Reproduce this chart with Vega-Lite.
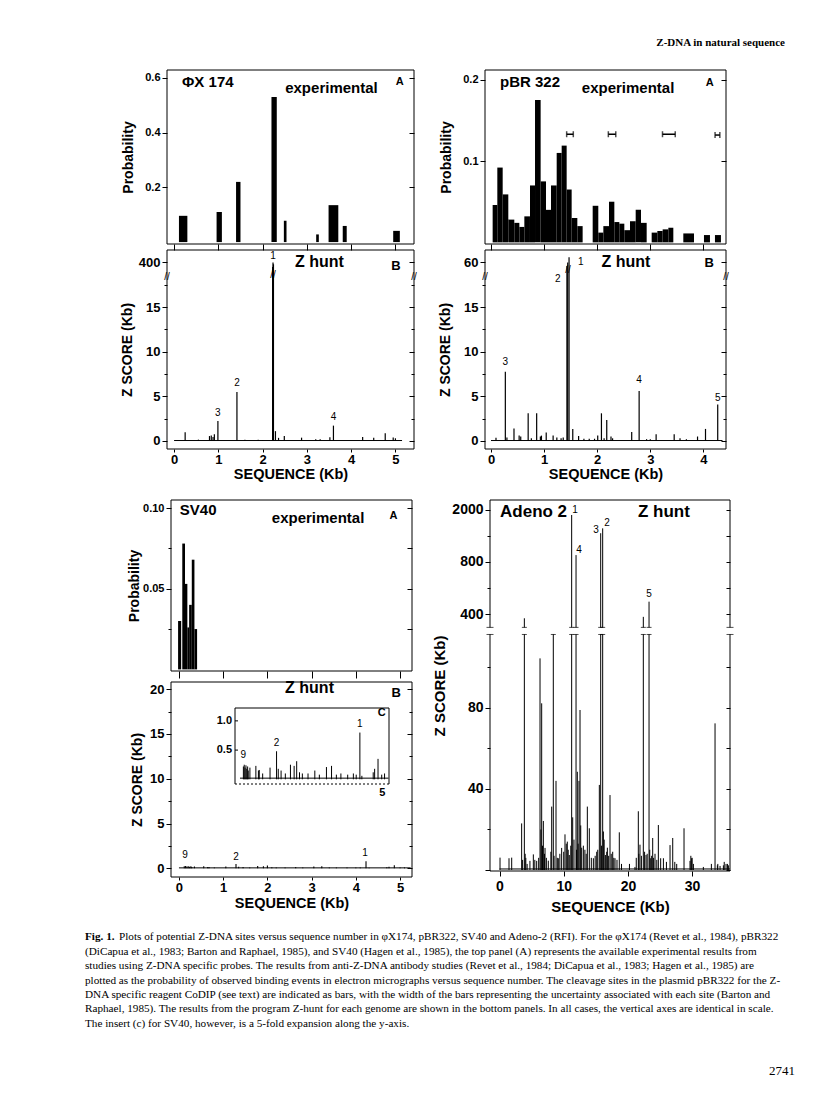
{
"$schema":"https://vega.github.io/schema/vega-lite/v6.json",
"width":816,"height":1093,
"autosize":{"type":"none"},
"padding":0,
"background":"white",
"config":{
 "view":{"stroke":null},
 "mark":{"color":"black"},
 "text":{"font":"Liberation Sans","fontWeight":"bold","fill":"black"},
 "axis":{"domain":false,"grid":false,"tickColor":"black","labelColor":"black","titleColor":"black","labelFont":"Liberation Sans","labelFontWeight":"bold","titleFont":"Liberation Sans","titleFontWeight":"bold","labelFontSize":12,"titleFontSize":14,"tickSize":5,"labelPadding":2}
},
"datasets":{
 "phiExp":[{"x0":0.11,"x1":0.30,"p":0.096},{"x0":0.96,"x1":1.08,"p":0.11},{"x0":1.40,"x1":1.50,"p":0.22},{"x0":2.20,"x1":2.32,"p":0.53},{"x0":2.48,"x1":2.54,"p":0.078},{"x0":3.21,"x1":3.27,"p":0.028},{"x0":3.49,"x1":3.71,"p":0.135},{"x0":3.81,"x1":3.90,"p":0.059},{"x0":4.95,"x1":5.10,"p":0.041}],
 "phiZ":[{"x":0.25,"z":0.97},{"x":0.55,"z":0.15},{"x":0.8,"z":0.55},{"x":0.84,"z":0.6},{"x":0.88,"z":0.45},{"x":0.91,"z":0.74},{"x":0.99,"z":2.24},{"x":1.42,"z":5.48},{"x":1.6,"z":0.15},{"x":1.9,"z":0.15},{"x":2.0,"z":0.1},{"x":2.225,"z":19.5},{"x":2.235,"z":20.0},{"x":2.245,"z":19.8},{"x":2.29,"z":1.1},{"x":2.36,"z":0.35},{"x":2.49,"z":0.57},{"x":2.88,"z":0.37},{"x":3.2,"z":0.2},{"x":3.3,"z":0.2},{"x":3.52,"z":0.41},{"x":3.60,"z":1.72},{"x":4.26,"z":0.45},{"x":4.51,"z":0.37},{"x":4.77,"z":0.86},{"x":4.95,"z":0.4},{"x":5.0,"z":0.3}],
 "pbrExp":[{"x0":0.031,"x1":0.119,"p":0.046},{"x0":0.119,"x1":0.220,"p":0.092},{"x0":0.220,"x1":0.326,"p":0.059},{"x0":0.326,"x1":0.439,"p":0.028},{"x0":0.439,"x1":0.534,"p":0.024},{"x0":0.534,"x1":0.628,"p":0.019},{"x0":0.628,"x1":0.734,"p":0.032},{"x0":0.734,"x1":0.829,"p":0.070},{"x0":0.829,"x1":0.935,"p":0.175},{"x0":0.935,"x1":1.036,"p":0.075},{"x0":1.036,"x1":1.130,"p":0.040},{"x0":1.130,"x1":1.237,"p":0.070},{"x0":1.237,"x1":1.331,"p":0.110},{"x0":1.331,"x1":1.425,"p":0.119},{"x0":1.425,"x1":1.519,"p":0.065},{"x0":1.519,"x1":1.626,"p":0.030},{"x0":1.626,"x1":1.726,"p":0.020},{"x0":1.915,"x1":2.021,"p":0.045},{"x0":2.021,"x1":2.116,"p":0.012},{"x0":2.116,"x1":2.222,"p":0.020},{"x0":2.222,"x1":2.323,"p":0.050},{"x0":2.323,"x1":2.417,"p":0.025},{"x0":2.417,"x1":2.511,"p":0.023},{"x0":2.511,"x1":2.618,"p":0.015},{"x0":2.618,"x1":2.725,"p":0.026},{"x0":2.725,"x1":2.825,"p":0.040},{"x0":2.825,"x1":2.932,"p":0.024},{"x0":3.026,"x1":3.133,"p":0.012},{"x0":3.133,"x1":3.233,"p":0.014},{"x0":3.233,"x1":3.340,"p":0.016},{"x0":3.340,"x1":3.434,"p":0.018},{"x0":3.622,"x1":3.823,"p":0.011},{"x0":4.011,"x1":4.124,"p":0.009},{"x0":4.218,"x1":4.331,"p":0.009}],
 "pbrSites":[{"lo":1.425,"hi":1.55,"p":0.133},{"lo":2.21,"hi":2.35,"p":0.133},{"lo":3.23,"hi":3.47,"p":0.133},{"lo":4.22,"hi":4.31,"p":0.132}],
 "pbrZ":[{"x":0.094,"z":0.37},{"x":0.27,"z":7.75},{"x":0.3,"z":0.4},{"x":0.433,"z":1.4},{"x":0.53,"z":0.6},{"x":0.56,"z":0.5},{"x":0.70,"z":3.1},{"x":0.76,"z":0.3},{"x":0.86,"z":3.1},{"x":0.93,"z":0.5},{"x":0.95,"z":0.6},{"x":1.04,"z":0.95},{"x":1.17,"z":0.6},{"x":1.24,"z":0.4},{"x":1.32,"z":0.3},{"x":1.36,"z":0.4},{"x":1.43,"z":19.6},{"x":1.445,"z":20.0},{"x":1.47,"z":20.6},{"x":1.54,"z":1.35},{"x":1.65,"z":0.55},{"x":1.75,"z":0.25},{"x":1.85,"z":0.25},{"x":1.95,"z":0.25},{"x":2.01,"z":0.6},{"x":2.08,"z":3.1},{"x":2.13,"z":0.3},{"x":2.18,"z":2.35},{"x":2.26,"z":0.5},{"x":2.29,"z":0.3},{"x":2.65,"z":1.0},{"x":2.79,"z":5.6},{"x":2.93,"z":0.2},{"x":3.0,"z":0.2},{"x":3.11,"z":0.75},{"x":3.45,"z":0.75},{"x":3.56,"z":0.3},{"x":3.68,"z":0.2},{"x":3.89,"z":0.5},{"x":4.04,"z":1.35},{"x":4.27,"z":4.1}],
 "svExp":[{"x0":-0.02,"x1":0.05,"p":0.030},{"x0":0.075,"x1":0.136,"p":0.078},{"x0":0.136,"x1":0.19,"p":0.053},{"x0":0.19,"x1":0.23,"p":0.026},{"x0":0.23,"x1":0.29,"p":0.040},{"x0":0.29,"x1":0.35,"p":0.068},{"x0":0.35,"x1":0.41,"p":0.025}],
 "svZ":[{"x":0.12,"z":0.22},{"x":0.15,"z":0.25},{"x":0.18,"z":0.2},{"x":0.21,"z":0.24},{"x":0.24,"z":0.18},{"x":0.27,"z":0.22},{"x":0.29,"z":0.15},{"x":0.35,"z":0.2},{"x":0.56,"z":0.23},{"x":0.65,"z":0.15},{"x":0.68,"z":0.16},{"x":0.8,"z":0.1},{"x":1.06,"z":0.2},{"x":1.29,"z":0.48},{"x":1.35,"z":0.18},{"x":1.45,"z":0.15},{"x":1.6,"z":0.1},{"x":1.78,"z":0.25},{"x":1.91,"z":0.23},{"x":2.0,"z":0.31},{"x":2.1,"z":0.12},{"x":2.2,"z":0.1},{"x":2.4,"z":0.1},{"x":2.64,"z":0.15},{"x":2.8,"z":0.08},{"x":3.05,"z":0.21},{"x":3.23,"z":0.23},{"x":3.4,"z":0.08},{"x":3.56,"z":0.1},{"x":3.8,"z":0.08},{"x":4.0,"z":0.1},{"x":4.1,"z":0.08},{"x":4.23,"z":0.8},{"x":4.3,"z":0.06},{"x":4.7,"z":0.12},{"x":4.75,"z":0.18},{"x":4.87,"z":0.35},{"x":5.0,"z":0.08},{"x":5.1,"z":0.1}],
 "adeno":[{"x":0.08,"z":6.1},{"x":1.48,"z":5.8},{"x":1.90,"z":6.1},{"x":3.45,"z":23},{"x":3.6,"z":5},{"x":3.87,"z":124.3},{"x":4.0,"z":8},{"x":4.1,"z":6},{"x":4.3,"z":3},{"x":4.74,"z":4.5},{"x":5.27,"z":7.7},{"x":5.5,"z":5},{"x":5.79,"z":4.5},{"x":6.1,"z":6},{"x":6.31,"z":104.5},{"x":6.45,"z":20},{"x":6.57,"z":82.3},{"x":6.7,"z":12},{"x":6.83,"z":24.2},{"x":7.0,"z":8},{"x":7.09,"z":10.9},{"x":7.3,"z":6},{"x":7.6,"z":4.6},{"x":8.0,"z":9},{"x":8.13,"z":31.3},{"x":8.38,"z":117},{"x":8.5,"z":7},{"x":8.8,"z":44},{"x":9.0,"z":6},{"x":9.16,"z":5.8},{"x":9.4,"z":8},{"x":9.68,"z":10.9},{"x":10.0,"z":9},{"x":10.2,"z":17.6},{"x":10.4,"z":13},{"x":10.56,"z":14},{"x":10.7,"z":10},{"x":10.87,"z":7.4},{"x":11.1,"z":12},{"x":11.24,"z":175.3},{"x":11.4,"z":26},{"x":11.6,"z":15},{"x":11.92,"z":155.5},{"x":12.0,"z":10},{"x":12.12,"z":48.5},{"x":12.25,"z":13},{"x":12.38,"z":44},{"x":12.54,"z":79},{"x":12.65,"z":22},{"x":12.8,"z":11},{"x":13.06,"z":12},{"x":13.3,"z":10},{"x":13.5,"z":8},{"x":13.68,"z":31.3},{"x":13.99,"z":20.6},{"x":14.3,"z":6},{"x":14.62,"z":5.8},{"x":14.9,"z":7},{"x":15.14,"z":9},{"x":15.3,"z":10},{"x":15.55,"z":42},{"x":15.76,"z":166.3},{"x":15.9,"z":12},{"x":16.07,"z":168.7},{"x":16.18,"z":19},{"x":16.3,"z":15},{"x":16.49,"z":7.4},{"x":16.7,"z":9},{"x":16.8,"z":11},{"x":17.0,"z":7},{"x":17.21,"z":37},{"x":17.4,"z":8},{"x":17.63,"z":9},{"x":17.8,"z":6},{"x":17.99,"z":5.8},{"x":18.3,"z":5},{"x":18.66,"z":18.6},{"x":19.0,"z":3},{"x":20.24,"z":3},{"x":21.1,"z":1.5},{"x":21.3,"z":6},{"x":21.62,"z":29},{"x":21.7,"z":8},{"x":21.88,"z":12.5},{"x":22.1,"z":7},{"x":22.4,"z":125},{"x":22.6,"z":9},{"x":22.82,"z":7.4},{"x":23.0,"z":8},{"x":23.29,"z":132.5},{"x":23.4,"z":10},{"x":23.55,"z":5.8},{"x":23.7,"z":7},{"x":23.86,"z":15.8},{"x":24.0,"z":6},{"x":24.22,"z":8},{"x":24.5,"z":5},{"x":24.74,"z":22.2},{"x":25.1,"z":5.8},{"x":25.53,"z":5.8},{"x":26.0,"z":4},{"x":26.56,"z":12.3},{"x":26.98,"z":15.8},{"x":27.3,"z":4},{"x":27.6,"z":3},{"x":28.74,"z":20.6},{"x":29.67,"z":4.5},{"x":29.8,"z":7},{"x":29.93,"z":5.8},{"x":30.0,"z":6},{"x":30.2,"z":3},{"x":31.75,"z":1.5},{"x":33.0,"z":3},{"x":33.57,"z":72.4},{"x":33.93,"z":2.3},{"x":34.0,"z":3},{"x":34.35,"z":2},{"x":34.87,"z":2.3},{"x":35.0,"z":4},{"x":35.28,"z":3},{"x":35.5,"z":3},{"x":35.65,"z":2.3}]
},
"layer":[
 {"layer":[
   {"data":{"values":[{}]},"mark":{"type":"rect","fillOpacity":0,"stroke":"black","strokeWidth":1},"encoding":{"x":{"datum":-0.16,"axis":null},"x2":{"datum":5.42},"y":{"datum":-0.007,"axis":null},"y2":{"datum":0.629}}},
   {"data":{"name":"phiExp"},"mark":{"type":"rect"},
    "encoding":{
     "x":{"field":"x0","type":"quantitative","scale":{"domain":[-0.16,5.42],"range":[167,414],"nice":false,"zero":false},"axis":{"orient":"bottom","offset":-849,"values":[0,1,2,3,4,5],"labels":false,"title":null,"tickSize":6}},
     "x2":{"field":"x1"},
     "y":{"field":"p","type":"quantitative","scale":{"domain":[-0.007,0.629],"range":[244,70],"nice":false,"zero":false},"axis":{"orient":"left","offset":-167,"values":[0.2,0.4,0.6],"format":".1f","title":"Probability","labelFontSize":11,"titlePadding":9}},
     "y2":{"datum":0}}},
   {"data":{"values":[{}]},"mark":{"type":"rule","opacity":0},"encoding":{"y":{"datum":0.2,"axis":{"orient":"right","offset":-402,"values":[0.2,0.4,0.6],"labels":false,"title":null,"tickSize":-5}}}},
   {"data":{"values":[{}]},"mark":{"type":"text","fontSize":15,"align":"left","baseline":"middle"},"encoding":{"x":{"datum":0.18,"axis":null},"y":{"datum":0.585,"axis":null},"text":{"value":"ΦX 174"}}},
   {"data":{"values":[{}]},"mark":{"type":"text","fontSize":15,"align":"left","baseline":"middle"},"encoding":{"x":{"datum":2.51,"axis":null},"y":{"datum":0.563,"axis":null},"text":{"value":"experimental"}}},
   {"data":{"values":[{}]},"mark":{"type":"text","fontSize":11,"align":"center","baseline":"middle"},"encoding":{"x":{"datum":5.10,"axis":null},"y":{"datum":0.585,"axis":null},"text":{"value":"A"}}}
  ],
  "resolve":{"axis":{"x":"independent","y":"independent"}}},
 {"layer":[
   {"data":{"values":[{}]},"mark":{"type":"rect","fillOpacity":0,"stroke":"black","strokeWidth":1},"encoding":{"x":{"datum":-0.16,"axis":null},"x2":{"datum":5.42},"y":{"datum":-0.9,"axis":null},"y2":{"datum":21.4}}},
   {"data":{"values":[{}]},"mark":{"type":"rule","strokeWidth":1},"encoding":{"x":{"datum":0,"axis":null},"x2":{"datum":5.15},"y":{"datum":0.05,"axis":null}}},
   {"data":{"name":"phiZ"},"mark":{"type":"rule","strokeWidth":1.2},
    "encoding":{
     "x":{"field":"x","type":"quantitative","scale":{"domain":[-0.16,5.42],"range":[167,414],"nice":false,"zero":false},"axis":{"orient":"bottom","offset":-644,"values":[0,1,2,3,4,5],"title":"SEQUENCE (Kb)","labelFontSize":13,"tickSize":3,"labelPadding":1,"titleFontSize":14.5,"titlePadding":1}},
     "y":{"field":"z","type":"quantitative","scale":{"domain":[-0.9,21.4],"range":[449,250],"nice":false,"zero":false},"axis":{"orient":"left","offset":-167,"values":[0,2.5,5,7.5,10,12.5,15,17.5,20],"labelExpr":"datum.value == 20 ? '400' : (datum.value % 5 == 0 ? '' + datum.value : '')","title":"Z SCORE (Kb)","labelFontSize":13,"titlePadding":4,"tickSize":{"condition":{"test":"datum.value % 5 == 0","value":5},"value":3}}},
     "y2":{"datum":0}}},
   {"data":{"values":[{}]},"mark":{"type":"rule","opacity":0},"encoding":{"y":{"datum":0,"axis":{"orient":"right","offset":-402,"values":[0,2.5,5,7.5,10,12.5,15,17.5,20],"labels":false,"title":null,"tickSize":{"condition":{"test":"datum.value % 5 == 0","value":-5},"value":-3}}}}},
   {"data":{"values":[{}]},"mark":{"type":"text","fontSize":16,"align":"left","baseline":"middle"},"encoding":{"x":{"datum":2.73,"axis":null},"y":{"datum":20.0,"axis":null},"text":{"value":"Z hunt"}}},
   {"data":{"values":[{}]},"mark":{"type":"text","fontSize":13,"align":"center","baseline":"middle"},"encoding":{"x":{"datum":5.01,"axis":null},"y":{"datum":19.6,"axis":null},"text":{"value":"B"}}},
   {"data":{"values":[{}]},"mark":{"type":"text","fontSize":10,"fontWeight":"normal","align":"center","baseline":"middle"},"encoding":{"x":{"datum":2.235,"axis":null},"y":{"datum":20.7,"axis":null},"text":{"value":"1"}}},
   {"data":{"values":[{}]},"mark":{"type":"text","fontSize":10,"fontWeight":"normal","align":"center","baseline":"middle"},"encoding":{"x":{"datum":1.42,"axis":null},"y":{"datum":6.5,"axis":null},"text":{"value":"2"}}},
   {"data":{"values":[{}]},"mark":{"type":"text","fontSize":10,"fontWeight":"normal","align":"center","baseline":"middle"},"encoding":{"x":{"datum":0.99,"axis":null},"y":{"datum":3.1,"axis":null},"text":{"value":"3"}}},
   {"data":{"values":[{}]},"mark":{"type":"text","fontSize":10,"fontWeight":"normal","align":"center","baseline":"middle"},"encoding":{"x":{"datum":3.60,"axis":null},"y":{"datum":2.7,"axis":null},"text":{"value":"4"}}},
   {"data":{"values":[{}]},"mark":{"type":"text","fontSize":10,"fontWeight":"normal","align":"center","baseline":"middle"},"encoding":{"x":{"datum":-0.16,"axis":null},"y":{"datum":18.4,"axis":null},"text":{"value":"//"}}},
   {"data":{"values":[{}]},"mark":{"type":"text","fontSize":10,"fontWeight":"normal","align":"center","baseline":"middle"},"encoding":{"x":{"datum":5.42,"axis":null},"y":{"datum":18.4,"axis":null},"text":{"value":"//"}}},
   {"data":{"values":[{}]},"mark":{"type":"text","fontSize":10,"fontWeight":"normal","align":"center","baseline":"middle"},"encoding":{"x":{"datum":2.235,"axis":null},"y":{"datum":18.6,"axis":null},"text":{"value":"//"}}}
  ],
  "resolve":{"axis":{"x":"independent","y":"independent"}}},
 {"layer":[
   {"data":{"values":[{}]},"mark":{"type":"rect","fillOpacity":0,"stroke":"black","strokeWidth":1},"encoding":{"x":{"datum":-0.113,"axis":null},"x2":{"datum":4.426},"y":{"datum":-0.002,"axis":null},"y2":{"datum":0.212}}},
   {"data":{"name":"pbrExp"},"mark":{"type":"rect"},
    "encoding":{
     "x":{"field":"x0","type":"quantitative","scale":{"domain":[-0.113,4.426],"range":[485,726],"nice":false,"zero":false},"axis":{"orient":"bottom","offset":-849,"values":[0,1,2,3,4],"labels":false,"title":null,"tickSize":6}},
     "x2":{"field":"x1"},
     "y":{"field":"p","type":"quantitative","scale":{"domain":[-0.002,0.212],"range":[244,70],"nice":false,"zero":false},"axis":{"orient":"left","offset":-485,"values":[0.1,0.2],"format":".1f","title":"Probability","labelFontSize":11,"titlePadding":9}},
     "y2":{"datum":0}}},
   {"data":{"name":"pbrSites"},"mark":{"type":"rule","strokeWidth":1.5},"encoding":{"x":{"field":"lo","type":"quantitative","axis":null},"x2":{"field":"hi"},"y":{"field":"p","type":"quantitative","axis":null}}},
   {"data":{"name":"pbrSites"},"mark":{"type":"tick","orient":"vertical","size":6,"thickness":1.5},"encoding":{"x":{"field":"lo","type":"quantitative","axis":null},"y":{"field":"p","type":"quantitative","axis":null}}},
   {"data":{"name":"pbrSites"},"mark":{"type":"tick","orient":"vertical","size":6,"thickness":1.5},"encoding":{"x":{"field":"hi","type":"quantitative","axis":null},"y":{"field":"p","type":"quantitative","axis":null}}},
   {"data":{"values":[{}]},"mark":{"type":"rule","opacity":0},"encoding":{"y":{"datum":0.1,"axis":{"orient":"right","offset":-90,"values":[0.1,0.2],"labels":false,"title":null,"tickSize":-5}}}},
   {"data":{"values":[{}]},"mark":{"type":"text","fontSize":15,"align":"left","baseline":"middle"},"encoding":{"x":{"datum":0.17,"axis":null},"y":{"datum":0.1975,"axis":null},"text":{"value":"pBR 322"}}},
   {"data":{"values":[{}]},"mark":{"type":"text","fontSize":15,"align":"left","baseline":"middle"},"encoding":{"x":{"datum":1.71,"axis":null},"y":{"datum":0.19,"axis":null},"text":{"value":"experimental"}}},
   {"data":{"values":[{}]},"mark":{"type":"text","fontSize":11,"align":"center","baseline":"middle"},"encoding":{"x":{"datum":4.12,"axis":null},"y":{"datum":0.196,"axis":null},"text":{"value":"A"}}}
  ],
  "resolve":{"axis":{"x":"independent","y":"independent"}}},
 {"layer":[
   {"data":{"values":[{}]},"mark":{"type":"rect","fillOpacity":0,"stroke":"black","strokeWidth":1},"encoding":{"x":{"datum":-0.113,"axis":null},"x2":{"datum":4.426},"y":{"datum":-0.9,"axis":null},"y2":{"datum":21.4}}},
   {"data":{"values":[{}]},"mark":{"type":"rule","strokeWidth":1},"encoding":{"x":{"datum":0,"axis":null},"x2":{"datum":4.36},"y":{"datum":0.05,"axis":null}}},
   {"data":{"name":"pbrZ"},"mark":{"type":"rule","strokeWidth":1.2},
    "encoding":{
     "x":{"field":"x","type":"quantitative","scale":{"domain":[-0.113,4.426],"range":[485,726],"nice":false,"zero":false},"axis":{"orient":"bottom","offset":-644,"values":[0,1,2,3,4],"title":"SEQUENCE (Kb)","labelFontSize":13,"tickSize":3,"labelPadding":1,"titleFontSize":14.5,"titlePadding":1}},
     "y":{"field":"z","type":"quantitative","scale":{"domain":[-0.9,21.4],"range":[449,250],"nice":false,"zero":false},"axis":{"orient":"left","offset":-485,"values":[0,2.5,5,7.5,10,12.5,15,17.5,20],"labelExpr":"datum.value == 20 ? '60' : (datum.value % 5 == 0 ? '' + datum.value : '')","title":"Z SCORE (Kb)","labelFontSize":13,"titlePadding":11,"tickSize":{"condition":{"test":"datum.value % 5 == 0","value":5},"value":3}}},
     "y2":{"datum":0}}},
   {"data":{"values":[{}]},"mark":{"type":"rule","opacity":0},"encoding":{"y":{"datum":0,"axis":{"orient":"right","offset":-90,"values":[0,2.5,5,7.5,10,12.5,15,17.5,20],"labels":false,"title":null,"tickSize":{"condition":{"test":"datum.value % 5 == 0","value":-5},"value":-3}}}}},
   {"data":{"values":[{}]},"mark":{"type":"text","fontSize":16,"align":"left","baseline":"middle"},"encoding":{"x":{"datum":2.08,"axis":null},"y":{"datum":20.1,"axis":null},"text":{"value":"Z hunt"}}},
   {"data":{"values":[{}]},"mark":{"type":"text","fontSize":13,"align":"center","baseline":"middle"},"encoding":{"x":{"datum":4.11,"axis":null},"y":{"datum":19.9,"axis":null},"text":{"value":"B"}}},
   {"data":{"values":[{}]},"mark":{"type":"text","fontSize":10,"fontWeight":"normal","align":"center","baseline":"middle"},"encoding":{"x":{"datum":1.69,"axis":null},"y":{"datum":20.1,"axis":null},"text":{"value":"1"}}},
   {"data":{"values":[{}]},"mark":{"type":"text","fontSize":10,"fontWeight":"normal","align":"center","baseline":"middle"},"encoding":{"x":{"datum":1.26,"axis":null},"y":{"datum":18.2,"axis":null},"text":{"value":"2"}}},
   {"data":{"values":[{}]},"mark":{"type":"text","fontSize":10,"fontWeight":"normal","align":"center","baseline":"middle"},"encoding":{"x":{"datum":0.27,"axis":null},"y":{"datum":8.9,"axis":null},"text":{"value":"3"}}},
   {"data":{"values":[{}]},"mark":{"type":"text","fontSize":10,"fontWeight":"normal","align":"center","baseline":"middle"},"encoding":{"x":{"datum":2.79,"axis":null},"y":{"datum":6.8,"axis":null},"text":{"value":"4"}}},
   {"data":{"values":[{}]},"mark":{"type":"text","fontSize":10,"fontWeight":"normal","align":"center","baseline":"middle"},"encoding":{"x":{"datum":4.27,"axis":null},"y":{"datum":4.8,"axis":null},"text":{"value":"5"}}},
   {"data":{"values":[{}]},"mark":{"type":"text","fontSize":10,"fontWeight":"normal","align":"center","baseline":"middle"},"encoding":{"x":{"datum":-0.113,"axis":null},"y":{"datum":18.4,"axis":null},"text":{"value":"//"}}},
   {"data":{"values":[{}]},"mark":{"type":"text","fontSize":10,"fontWeight":"normal","align":"center","baseline":"middle"},"encoding":{"x":{"datum":4.426,"axis":null},"y":{"datum":18.4,"axis":null},"text":{"value":"//"}}},
   {"data":{"values":[{}]},"mark":{"type":"text","fontSize":10,"fontWeight":"normal","align":"center","baseline":"middle"},"encoding":{"x":{"datum":1.45,"axis":null},"y":{"datum":19.2,"axis":null},"text":{"value":"//"}}}
  ],
  "resolve":{"axis":{"x":"independent","y":"independent"}}},
 {"layer":[
   {"data":{"values":[{}]},"mark":{"type":"rect","fillOpacity":0,"stroke":"black","strokeWidth":1},"encoding":{"x":{"datum":-0.18,"axis":null},"x2":{"datum":5.27},"y":{"datum":-0.001,"axis":null},"y2":{"datum":0.105}}},
   {"data":{"name":"svExp"},"mark":{"type":"rect"},
    "encoding":{
     "x":{"field":"x0","type":"quantitative","scale":{"domain":[-0.18,5.27],"range":[171,412],"nice":false,"zero":false},"axis":{"orient":"bottom","offset":-422,"values":[0,1,2,3,4,5],"labels":false,"title":null,"tickSize":7}},
     "x2":{"field":"x1"},
     "y":{"field":"p","type":"quantitative","scale":{"domain":[-0.001,0.105],"range":[671,500],"nice":false,"zero":false},"axis":{"orient":"left","offset":-171,"values":[0.025,0.05,0.075,0.1],"labelExpr":"datum.value == 0.1 ? '0.10' : (datum.value == 0.05 ? '0.05' : '')","title":"Probability","labelFontSize":11,"titlePadding":1,"tickSize":{"condition":{"test":"datum.value == 0.05 || datum.value == 0.1","value":5},"value":3}}},
     "y2":{"datum":0}}},
   {"data":{"values":[{}]},"mark":{"type":"rule","opacity":0},"encoding":{"y":{"datum":0.05,"axis":{"orient":"right","offset":-404,"values":[0.025,0.05,0.075,0.1],"labels":false,"title":null,"tickSize":-5}}}},
   {"data":{"values":[{}]},"mark":{"type":"text","fontSize":15,"align":"left","baseline":"middle"},"encoding":{"x":{"datum":0.02,"axis":null},"y":{"datum":0.0988,"axis":null},"text":{"value":"SV40"}}},
   {"data":{"values":[{}]},"mark":{"type":"text","fontSize":15,"align":"left","baseline":"middle"},"encoding":{"x":{"datum":2.1,"axis":null},"y":{"datum":0.094,"axis":null},"text":{"value":"experimental"}}},
   {"data":{"values":[{}]},"mark":{"type":"text","fontSize":11,"align":"center","baseline":"middle"},"encoding":{"x":{"datum":4.85,"axis":null},"y":{"datum":0.0953,"axis":null},"text":{"value":"A"}}}
  ],
  "resolve":{"axis":{"x":"independent","y":"independent"}}},
 {"layer":[
   {"data":{"values":[{}]},"mark":{"type":"rect","fillOpacity":0,"stroke":"black","strokeWidth":1},"encoding":{"x":{"datum":-0.18,"axis":null},"x2":{"datum":5.27},"y":{"datum":-0.97,"axis":null},"y2":{"datum":20.8}}},
   {"data":{"values":[{}]},"mark":{"type":"rule","strokeWidth":1},"encoding":{"x":{"datum":0,"axis":null},"x2":{"datum":5.24},"y":{"datum":0.05,"axis":null}}},
   {"data":{"name":"svZ"},"mark":{"type":"rule","strokeWidth":1.1},
    "encoding":{
     "x":{"field":"x","type":"quantitative","scale":{"domain":[-0.18,5.27],"range":[171,412],"nice":false,"zero":false},"axis":{"orient":"bottom","offset":-216,"values":[0,1,2,3,4,5],"title":"SEQUENCE (Kb)","labelFontSize":13,"tickSize":3,"labelPadding":1,"titleFontSize":14.5,"titlePadding":2}},
     "y":{"field":"z","type":"quantitative","scale":{"domain":[-0.97,20.8],"range":[877,682],"nice":false,"zero":false},"axis":{"orient":"left","offset":-171,"values":[0,2.5,5,7.5,10,12.5,15,17.5,20],"labelExpr":"datum.value % 5 == 0 ? '' + datum.value : ''","title":"Z SCORE (Kb)","labelFontSize":13,"titlePadding":5,"tickSize":{"condition":{"test":"datum.value % 5 == 0","value":5},"value":3}}},
     "y2":{"datum":0}}},
   {"data":{"values":[{}]},"mark":{"type":"rule","opacity":0},"encoding":{"y":{"datum":0,"axis":{"orient":"right","offset":-404,"values":[0,2.5,5,7.5,10,12.5,15,17.5,20],"labels":false,"title":null,"tickSize":{"condition":{"test":"datum.value % 5 == 0","value":-5},"value":-3}}}}},
   {"data":{"values":[{}]},"mark":{"type":"text","fontSize":16,"align":"left","baseline":"middle"},"encoding":{"x":{"datum":2.40,"axis":null},"y":{"datum":20.1,"axis":null},"text":{"value":"Z hunt"}}},
   {"data":{"values":[{}]},"mark":{"type":"text","fontSize":13,"align":"center","baseline":"middle"},"encoding":{"x":{"datum":4.91,"axis":null},"y":{"datum":19.55,"axis":null},"text":{"value":"B"}}},
   {"data":{"values":[{}]},"mark":{"type":"text","fontSize":10,"fontWeight":"normal","align":"center","baseline":"middle"},"encoding":{"x":{"datum":0.14,"axis":null},"y":{"datum":1.5,"axis":null},"text":{"value":"9"}}},
   {"data":{"values":[{}]},"mark":{"type":"text","fontSize":10,"fontWeight":"normal","align":"center","baseline":"middle"},"encoding":{"x":{"datum":1.29,"axis":null},"y":{"datum":1.3,"axis":null},"text":{"value":"2"}}},
   {"data":{"values":[{}]},"mark":{"type":"text","fontSize":10,"fontWeight":"normal","align":"center","baseline":"middle"},"encoding":{"x":{"datum":4.21,"axis":null},"y":{"datum":1.7,"axis":null},"text":{"value":"1"}}}
  ],
  "resolve":{"axis":{"x":"independent","y":"independent"}}},
 {"layer":[
   {"data":{"name":"svZ"},"mark":{"type":"rule","strokeWidth":1},
    "encoding":{
     "x":{"field":"x","type":"quantitative","scale":{"domain":[-0.176,5.257],"range":[235,389],"nice":false,"zero":false},"axis":null},
     "y":{"field":"z","type":"quantitative","scale":{"domain":[-0.08,1.22],"range":[784,708],"nice":false,"zero":false},"axis":null},
     "y2":{"datum":0}}},
   {"data":{"values":[{}]},"mark":{"type":"rule","strokeWidth":1},"encoding":{"x":{"datum":0,"axis":null},"x2":{"datum":5.24},"y":{"datum":0.02,"axis":null}}},
   {"data":{"values":[{}]},"mark":{"type":"rule","strokeWidth":1},"encoding":{"x":{"datum":-0.176,"axis":null},"x2":{"datum":5.257},"y":{"datum":1.22,"axis":null}}},
   {"data":{"values":[{}]},"mark":{"type":"rule","strokeWidth":1},"encoding":{"x":{"datum":-0.176,"axis":null},"y":{"datum":-0.08,"axis":null},"y2":{"datum":1.22}}},
   {"data":{"values":[{}]},"mark":{"type":"rule","strokeWidth":1},"encoding":{"x":{"datum":5.257,"axis":null},"y":{"datum":-0.08,"axis":null},"y2":{"datum":1.22}}},
   {"data":{"values":[{}]},"mark":{"type":"rule","strokeWidth":1,"strokeDash":[2,2]},"encoding":{"x":{"datum":-0.176,"axis":null},"x2":{"datum":5.257},"y":{"datum":-0.08,"axis":null}}},
   {"data":{"values":[{}]},"mark":{"type":"rule","strokeWidth":1},"encoding":{"x":{"datum":-0.176,"axis":null},"x2":{"datum":-0.07},"y":{"datum":1.0,"axis":null}}},
   {"data":{"values":[{}]},"mark":{"type":"rule","strokeWidth":1},"encoding":{"x":{"datum":-0.176,"axis":null},"x2":{"datum":-0.07},"y":{"datum":0.5,"axis":null}}},
   {"data":{"values":[{}]},"mark":{"type":"text","fontSize":11,"align":"right","baseline":"middle"},"encoding":{"x":{"datum":-0.28,"axis":null},"y":{"datum":1.0,"axis":null},"text":{"value":"1.0"}}},
   {"data":{"values":[{}]},"mark":{"type":"text","fontSize":11,"align":"right","baseline":"middle"},"encoding":{"x":{"datum":-0.28,"axis":null},"y":{"datum":0.5,"axis":null},"text":{"value":"0.5"}}},
   {"data":{"values":[{}]},"mark":{"type":"text","fontSize":11,"align":"center","baseline":"middle"},"encoding":{"x":{"datum":5.02,"axis":null},"y":{"datum":-0.236,"axis":null},"text":{"value":"5"}}},
   {"data":{"values":[{}]},"mark":{"type":"text","fontSize":11,"align":"center","baseline":"middle"},"encoding":{"x":{"datum":5.0,"axis":null},"y":{"datum":1.14,"axis":null},"text":{"value":"C"}}},
   {"data":{"values":[{}]},"mark":{"type":"text","fontSize":10,"fontWeight":"normal","align":"center","baseline":"middle"},"encoding":{"x":{"datum":0.12,"axis":null},"y":{"datum":0.42,"axis":null},"text":{"value":"9"}}},
   {"data":{"values":[{}]},"mark":{"type":"text","fontSize":10,"fontWeight":"normal","align":"center","baseline":"middle"},"encoding":{"x":{"datum":1.29,"axis":null},"y":{"datum":0.62,"axis":null},"text":{"value":"2"}}},
   {"data":{"values":[{}]},"mark":{"type":"text","fontSize":10,"fontWeight":"normal","align":"center","baseline":"middle"},"encoding":{"x":{"datum":4.23,"axis":null},"y":{"datum":0.95,"axis":null},"text":{"value":"1"}}}
  ]},
 {"layer":[
   {"data":{"values":[{}]},"mark":{"type":"rect","fillOpacity":0,"stroke":"black","strokeWidth":1},"encoding":{"x":{"datum":-1.48,"axis":null},"x2":{"datum":35.9},"y":{"datum":-0.5,"axis":null},"y2":{"datum":182.7}}},
   {"data":{"values":[{}]},"mark":{"type":"rule","strokeWidth":1},"encoding":{"x":{"datum":0,"axis":null},"x2":{"datum":35.9},"y":{"datum":0.5,"axis":null}}},
   {"data":{"name":"adeno"},"mark":{"type":"rule","strokeWidth":1},
    "encoding":{
     "x":{"field":"x","type":"quantitative","scale":{"domain":[-1.48,35.9],"range":[490,730],"nice":false,"zero":false},"axis":{"orient":"bottom","offset":-222,"values":[0,10,20,30],"title":"SEQUENCE (Kb)","labelFontSize":14,"tickSize":5,"labelPadding":3,"titleFontSize":15,"titlePadding":6}},
     "y":{"field":"z","type":"quantitative","scale":{"domain":[-0.5,182.7],"range":[871,500],"nice":false,"zero":false},"axis":{"orient":"left","offset":-490,"values":[0,20,40,60,80,100,126.4,139.2,152.1,165,177.8],"labelExpr":"datum.value == 40 ? '40' : datum.value == 80 ? '80' : datum.value == 126.4 ? '400' : datum.value == 152.1 ? '800' : datum.value == 177.8 ? '2000' : ''","title":"Z SCORE (Kb)","labelFontSize":14,"titleFontSize":15,"titlePadding":4,"tickSize":{"condition":{"test":"datum.value == 0 || datum.value == 40 || datum.value == 80 || datum.value == 126.4 || datum.value == 152.1 || datum.value == 177.8","value":5},"value":3}}},
     "y2":{"datum":0}}},
   {"data":{"values":[{}]},"mark":{"type":"rect","color":"white"},"encoding":{"x":{"datum":-1.7,"axis":null},"x2":{"datum":36.1},"y":{"datum":116.4,"axis":null},"y2":{"datum":119.7}}},
   {"data":{"name":"adeno"},"transform":[{"filter":"datum.z > 118"}],"mark":{"type":"tick","orient":"horizontal","size":5,"thickness":1},"encoding":{"x":{"field":"x","type":"quantitative","axis":null},"y":{"datum":119.8,"axis":null}}},
   {"data":{"name":"adeno"},"transform":[{"filter":"datum.z > 116"}],"mark":{"type":"tick","orient":"horizontal","size":5,"thickness":1},"encoding":{"x":{"field":"x","type":"quantitative","axis":null},"y":{"datum":116.3,"axis":null}}},
   {"data":{"values":[{}]},"mark":{"type":"tick","orient":"horizontal","size":7,"thickness":1},"encoding":{"x":{"datum":-1.48,"axis":null},"y":{"datum":119.8,"axis":null}}},
   {"data":{"values":[{}]},"mark":{"type":"tick","orient":"horizontal","size":7,"thickness":1},"encoding":{"x":{"datum":-1.48,"axis":null},"y":{"datum":116.3,"axis":null}}},
   {"data":{"values":[{}]},"mark":{"type":"tick","orient":"horizontal","size":7,"thickness":1},"encoding":{"x":{"datum":35.9,"axis":null},"y":{"datum":119.8,"axis":null}}},
   {"data":{"values":[{}]},"mark":{"type":"tick","orient":"horizontal","size":7,"thickness":1},"encoding":{"x":{"datum":35.9,"axis":null},"y":{"datum":116.3,"axis":null}}},
   {"data":{"values":[{}]},"mark":{"type":"rule","opacity":0},"encoding":{"y":{"datum":0,"axis":{"orient":"right","offset":-86,"values":[0,20,40,60,80,100,126.4,139.2,152.1,165,177.8],"labels":false,"title":null,"tickSize":-4}}}},
   {"data":{"values":[{}]},"mark":{"type":"text","fontSize":17,"align":"left","baseline":"middle"},"encoding":{"x":{"datum":0.08,"axis":null},"y":{"datum":176.8,"axis":null},"text":{"value":"Adeno 2"}}},
   {"data":{"values":[{}]},"mark":{"type":"text","fontSize":17,"align":"left","baseline":"middle"},"encoding":{"x":{"datum":21.57,"axis":null},"y":{"datum":176.8,"axis":null},"text":{"value":"Z hunt"}}},
   {"data":{"values":[{}]},"mark":{"type":"text","fontSize":10,"fontWeight":"normal","align":"center","baseline":"middle"},"encoding":{"x":{"datum":11.76,"axis":null},"y":{"datum":177.8,"axis":null},"text":{"value":"1"}}},
   {"data":{"values":[{}]},"mark":{"type":"text","fontSize":10,"fontWeight":"normal","align":"center","baseline":"middle"},"encoding":{"x":{"datum":12.38,"axis":null},"y":{"datum":158,"axis":null},"text":{"value":"4"}}},
   {"data":{"values":[{}]},"mark":{"type":"text","fontSize":10,"fontWeight":"normal","align":"center","baseline":"middle"},"encoding":{"x":{"datum":15.03,"axis":null},"y":{"datum":167.9,"axis":null},"text":{"value":"3"}}},
   {"data":{"values":[{}]},"mark":{"type":"text","fontSize":10,"fontWeight":"normal","align":"center","baseline":"middle"},"encoding":{"x":{"datum":16.74,"axis":null},"y":{"datum":171.4,"axis":null},"text":{"value":"2"}}},
   {"data":{"values":[{}]},"mark":{"type":"text","fontSize":10,"fontWeight":"normal","align":"center","baseline":"middle"},"encoding":{"x":{"datum":23.29,"axis":null},"y":{"datum":136.3,"axis":null},"text":{"value":"5"}}}
  ],
  "resolve":{"axis":{"x":"independent","y":"independent"}}},
 {"data":{"values":[{}]},"mark":{"type":"text","font":"Liberation Serif","fontWeight":"bold","fontSize":11,"align":"right","baseline":"middle"},"encoding":{"x":{"value":785},"y":{"value":43},"text":{"value":"Z-DNA in natural sequence"}}},
 {"data":{"values":[{}]},"mark":{"type":"text","font":"Liberation Serif","fontWeight":"bold","fontSize":11.2,"align":"left","baseline":"middle"},"encoding":{"x":{"value":85},"y":{"value":937},"text":{"value":"Fig. 1."}}},
 {"data":{"values":[{}]},"mark":{"type":"text","font":"Liberation Serif","fontWeight":"normal","fontSize":11.2,"align":"left","baseline":"middle","dx":34},"encoding":{"x":{"value":85},"y":{"value":937},"text":{"value":"Plots of potential Z-DNA sites versus sequence number in φX174, pBR322, SV40 and Adeno-2 (RFI). For the φX174 (Revet et al., 1984), pBR322"}}},
 {"data":{"values":[{}]},"mark":{"type":"text","font":"Liberation Serif","fontWeight":"normal","fontSize":11.2,"align":"left","baseline":"top","lineBreak":"\n","lineHeight":14.3},"encoding":{"x":{"value":85},"y":{"value":946},"text":{"value":"(DiCapua et al., 1983; Barton and Raphael, 1985), and SV40 (Hagen et al., 1985), the top panel (A) represents the available experimental results from\nstudies using Z-DNA specific probes. The results from anti-Z-DNA antibody studies (Revet et al., 1984; DiCapua et al., 1983; Hagen et al., 1985) are\nplotted as the probability of observed binding events in electron micrographs versus sequence number. The cleavage sites in the plasmid pBR322 for the Z-\nDNA specific reagent CoDIP (see text) are indicated as bars, with the width of the bars representing the uncertainty associated with each site (Barton and\nRaphael, 1985). The results from the program Z-hunt for each genome are shown in the bottom panels. In all cases, the vertical axes are identical in scale.\nThe insert (c) for SV40, however, is a 5-fold expansion along the y-axis."}}},
 {"data":{"values":[{}]},"mark":{"type":"text","font":"Liberation Serif","fontWeight":"normal","fontSize":13,"align":"center","baseline":"middle"},"encoding":{"x":{"value":782},"y":{"value":1071},"text":{"value":"2741"}}}
],
"resolve":{"scale":{"x":"independent","y":"independent"}}
}
